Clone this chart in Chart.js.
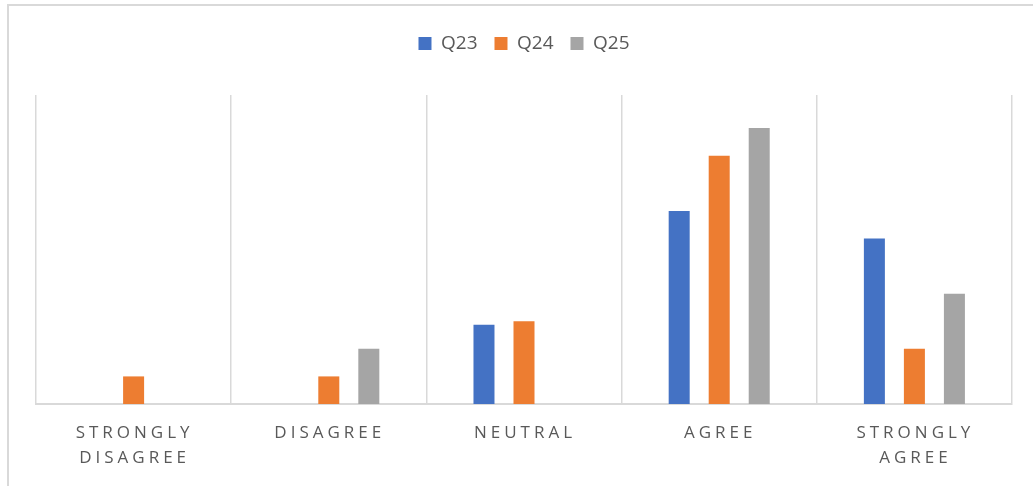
<!DOCTYPE html>
<html>
<head>
<meta charset="utf-8">
<script src="https://cdn.jsdelivr.net/npm/chart.js@4.4.1/dist/chart.umd.min.js"></script>
<style>
    html, body { margin: 0; padding: 0; background: #fff; overflow: hidden; }
    #frame { position: absolute; left: 7px; top: 4px; width: 1100px; height: 600px; border: 2px solid #d9d9d9; }
    #wrap { position: absolute; left: 0; top: 0; width: 1033px; height: 486px; }
</style>
</head>
<body>
<div id="frame"></div>
<div id="wrap"><canvas id="chart"></canvas></div>
<script>
const categories = [["STRONGLY", "DISAGREE"], "DISAGREE", "NEUTRAL", "AGREE", ["STRONGLY", "AGREE"]];
const seriesNames = ["Q23", "Q24", "Q25"];
const q23 = [0, 0, 2.87, 7, 6];
const q24 = [1, 1, 3, 9, 2];
const q25 = [0, 2, 0, 10, 4];
const yMax = 11.2;

const textColor = "#595959";
const fontFamily = "'Open Sans', 'Liberation Sans', sans-serif";

// Excel-style spaced capitals under each category
const spacedLabels = {
    id: "spacedLabels",
    afterDraw(chart) {
        const ctx = chart.ctx;
        const xScale = chart.scales.x;
        const spacing = 4;
        ctx.save();
        ctx.font = `17px ${fontFamily}`;
        ctx.fillStyle = textColor;
        ctx.textAlign = "center";
        ctx.textBaseline = "middle";
        ctx.letterSpacing = spacing + "px";
        categories.forEach((label, i) => {
            const lines = Array.isArray(label) ? label : [label];
            const x = xScale.getPixelForTick(i) + spacing / 2 - 1;
            lines.forEach((line, j) => {
                ctx.fillText(line, x, chart.chartArea.bottom + 29 + j * 25);
            });
        });
        ctx.restore();
    }
};

// leave a gap between the legend and the plot, like the original
const legendGap = {
    id: "legendGap",
    beforeInit(chart) {
        const fit = chart.legend.fit;
        chart.legend.fit = function () {
            fit.call(this);
            this.height += 32;
        };
    }
};

const ctx = document.getElementById("chart").getContext("2d");
new Chart(ctx, {
    type: "bar",
    data: {
        labels: categories,
        datasets: [
            { label: seriesNames[0], data: q23, backgroundColor: "#4472c4" },
            { label: seriesNames[1], data: q24, backgroundColor: "#ed7d31" },
            { label: seriesNames[2], data: q25, backgroundColor: "#a5a5a5" }
        ]
    },
    options: {
        responsive: true,
        maintainAspectRatio: false,
        animation: false,
        categoryPercentage: 0.615,
        barPercentage: 0.525,
        layout: { padding: { left: 36, right: 21, top: 17, bottom: 82 } },
        scales: {
            x: {
                grid: { display: true, offset: true, color: "#d9d9d9", lineWidth: 1.5, drawTicks: false },
                border: { display: true, color: "#d9d9d9", width: 2 },
                ticks: { display: false }
            },
            y: {
                display: false,
                min: 0,
                max: yMax
            }
        },
        plugins: {
            legend: {
                position: "top",
                labels: {
                    boxWidth: 13,
                    boxHeight: 13,
                    padding: 17,
                    color: textColor,
                    font: { family: fontFamily, size: 19 }
                }
            },
            tooltip: { enabled: false }
        }
    },
    plugins: [spacedLabels, legendGap]
});
</script>
</body>
</html>
